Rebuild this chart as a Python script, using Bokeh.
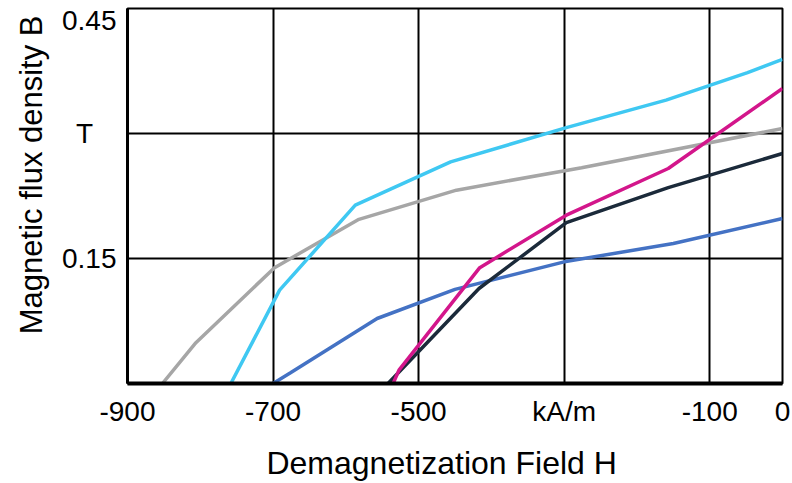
from bokeh.plotting import figure
from bokeh.models import Range1d, FixedTicker, Title
from bokeh.embed import file_html
from bokeh.resources import INLINE

# ---- data ----
x_ticks = [-900, -700, -500, -300, -100, 0]
x_tick_labels = {-900: "-900", -700: "-700", -500: "-500", -300: "kA/m", -100: "-100", 0: "0"}
grid_y = [0.15, 0.3, 0.45]
# the top label sits a little below its grid line in the reference
y_label_pos = [0.15, 0.3, 0.4356]
# "T" is centred in the label column: padded with a figure space + punctuation space
y_tick_labels = {0.15: "0.15", 0.3: "T\u2007\u2008", 0.4356: "0.45"}
x_title = "Demagnetization Field H\u2007\u2008"
y_title = "Magnetic flux density B"

cyan_h = [-758, -691, -587, -456, -297, -160, -48, 0]
cyan_b = [0.0, 0.112, 0.214, 0.266, 0.307, 0.340, 0.373, 0.389]

gray_h = [-852, -806, -698, -582, -448, -276, 0]
gray_b = [0.0, 0.049, 0.139, 0.197, 0.232, 0.259, 0.306]

blue_h = [-700, -676, -557, -450, -300, -150, 0]
blue_b = [0.0, 0.013, 0.078, 0.113, 0.146, 0.168, 0.198]

navy_h = [-542, -417, -297, -157, 0]
navy_b = [0.0, 0.114, 0.193, 0.235, 0.276]

magenta_h = [-535, -527, -416, -297, -157, 0]
magenta_b = [0.0, 0.016, 0.139, 0.202, 0.258, 0.354]

series = [
    (gray_h, gray_b, "#a6a6a6"),
    (blue_h, blue_b, "#4472c4"),
    (cyan_h, cyan_b, "#3fc8f2"),
    (navy_h, navy_b, "#1b2a3a"),
    (magenta_h, magenta_b, "#d3168b"),
]

FONT = "Liberation Sans"

p = figure(width=792, height=483, output_backend="svg", toolbar_location=None,
           x_range=Range1d(-900, 0), y_range=Range1d(0, 0.45),
           min_border_left=124, min_border_right=10, min_border_top=8,
           min_border_bottom=100)
p.background_fill_color = "white"
p.border_fill_color = "white"
p.outline_line_color = "black"
p.outline_line_width = 2

for h, b, c in series:
    p.line(h, b, line_color=c, line_width=3.5)

p.xaxis.ticker = FixedTicker(ticks=x_ticks)
p.xaxis.major_label_overrides = x_tick_labels
p.yaxis.ticker = FixedTicker(ticks=y_label_pos)
p.yaxis.major_label_overrides = y_tick_labels

for ax in (p.xaxis, p.yaxis):
    ax.axis_line_color = "black"
    ax.major_tick_line_color = None
    ax.minor_tick_line_color = None
    ax.major_tick_in = 0
    ax.major_tick_out = 0
    ax.major_label_text_font = FONT
    ax.major_label_text_font_size = "28px"
    ax.major_label_text_color = "black"
    ax.axis_label_text_font = FONT
    ax.axis_label_text_font_style = "normal"
    ax.axis_label_text_font_size = "32px"
    ax.axis_label_text_color = "black"

p.xaxis.axis_line_width = 4
p.yaxis.axis_line_width = 3
p.xaxis.major_label_standoff = 12
p.yaxis.major_label_standoff = 11
p.xaxis.axis_label = x_title
p.xaxis.axis_label_standoff = 15

p.xgrid.ticker = FixedTicker(ticks=x_ticks)
p.ygrid.ticker = FixedTicker(ticks=grid_y)
for g in (p.xgrid, p.ygrid):
    g.grid_line_color = "black"
    g.grid_line_width = 2
    g.grid_line_alpha = 1.0

p.add_layout(Title(text=y_title, align="right", offset=7,
                   text_font=FONT, text_font_size="31px", text_font_style="normal",
                   text_color="black", standoff=22), "left")

open("out.html", "w").write(file_html(p, INLINE))
